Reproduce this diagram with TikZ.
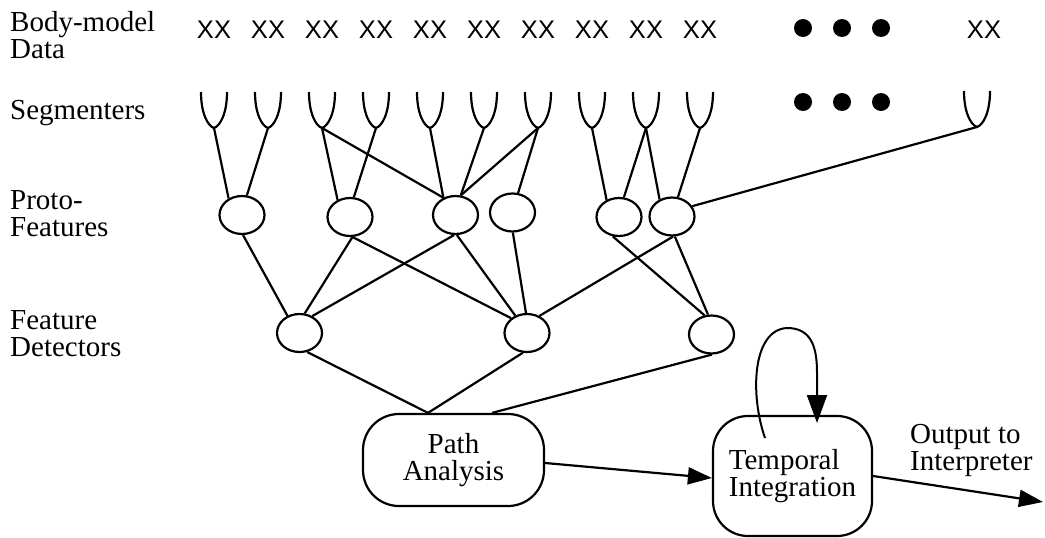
\documentclass[tikz,border=0pt]{standalone}
\usepackage{fontspec}
\setmainfont{Liberation Serif}
\newfontfamily\xxfont{Liberation Sans}
\usetikzlibrary{arrows.meta,shapes.geometric}
\begin{document}
\begin{tikzpicture}[x=1pt,y=-1pt,
  wire/.style={line width=2.2pt},
  unit/.style={draw,ellipse,line width=2.2pt,minimum width=45pt,minimum height=38pt,inner sep=0pt},
  stage/.style={draw,rectangle,line width=2.2pt,inner sep=0pt},
  layer/.style={anchor=base west,align=left,inner sep=0pt,font=\fontsize{29}{27}\selectfont},
  boxtext/.style={font=\fontsize{29}{27}\selectfont},
  datum/.style={inner sep=0pt,font=\xxfont\fontsize{25.5}{25.5}\selectfont},
  flow/.style={line width=2.2pt,-{Triangle[length=24pt,width=17pt]}},
  cup/.pic={\draw[line width=2.2pt] (-13,-36) .. controls (-13,-14) and (-6,-2) .. (0,0) .. controls (6,-2) and (13,-14) .. (13,-36);}
]
\useasboundingbox (0,0) rectangle (1045,538);

% layer labels (anchored at the baseline of their last line)
\node[layer] (lbody) at (10,58) {Body-model\\Data};
\node[layer] (lseg)  at (10,119) {Segmenters};
\node[layer] (lproto) at (10,236) {Proto-\\Features};
\node[layer] (lfeat) at (10,356) {Feature\\Detectors};

% body-model data and segmenters
\foreach \i in {0,...,9} {
  \node[datum] (x\i) at ({214+54*\i},30) {XX};
  \coordinate (s\i) at ({214+54*\i},128);
  \pic at (s\i) {cup};
}
\node[datum] (xL) at (984,30) {XX};
\coordinate (sL) at (977,127);
\pic at (sL) {cup};
\foreach \x in {803,842,881} {
  \fill (\x,28) circle[radius=9pt];
  \fill (\x,102) circle[radius=9pt];
}

% proto-features
\node[unit] (p1) at (242,215) {};
\node[unit] (p2) at (350,217) {};
\node[unit] (p3) at (455.5,215) {};
\node[unit] (p4) at (512.5,212.5) {};
\node[unit] (p5) at (619,217) {};
\node[unit] (p6) at (672,216.5) {};

% feature detectors
\node[unit] (f1) at (299.5,333) {};
\node[unit] (f2) at (527,333) {};
\node[unit] (f3) at (711.5,334.5) {};

% processing stages
\node[stage,boxtext,rounded corners=36pt,minimum width=181pt,minimum height=92pt,align=center]
  (path) at (453.5,460) {Path\\Analysis};
\node[stage,boxtext,rounded corners=35pt,minimum width=159pt,minimum height=120pt,align=left]
  (temp) at (792.5,476) {Temporal\\Integration};
\node[boxtext,anchor=base west,align=left,inner sep=0pt] (outlabel) at (910,470) {Output to\\Interpreter};

% segmenters to proto-features
\draw[wire] (s0) -- (p1.129);
\draw[wire] (s1) -- (p1.76);
\draw[wire] (s2) -- (p2.126);
\draw[wire] (s2) -- (p3.125);
\draw[wire] (s3) -- (p2.79);
\draw[wire] (s4) -- (p3.125);
\draw[wire] (s5) -- (p3.75);
\draw[wire] (s6) -- (p3.75);
\draw[wire] (s6) -- (p4.74);
\draw[wire] (s7) -- (p5.126);
\draw[wire] (s8) -- (p5.76);
\draw[wire] (s8) -- (p6.126);
\draw[wire] (s9) -- (p6.73);
\draw[wire] (sL) -- (p6.27);

% proto-features to feature detectors
\draw[wire] (p1.273) -- (f1.125);
\draw[wire] (p2.277) -- (f1.75);
\draw[wire] (p3.266) -- (f1.53);
\draw[wire] (p2.277) -- (f2.137);
\draw[wire] (p3.274) -- (f2.124);
\draw[wire] (p4.271) -- (f2.93);
\draw[wire] (p6.273) -- (f2.54);
\draw[wire] (p5.252) -- (f3.110);
\draw[wire] (p6.278) -- (f3.100);

% feature detectors to path analysis
\draw[wire] (f1.292) -- ([xshift=-25.5pt]path.north);
\draw[wire] (f2.258) -- ([xshift=-25.5pt]path.north);
\draw[wire] (f3.271) -- ([xshift=38.5pt]path.north);

% stage flow
\draw[flow] ([yshift=-3pt]path.east) -- ([yshift=-2pt]temp.west);
\coordinate (outtip) at (1043,502);
\draw[flow] (temp.east) -- (outtip);

% feedback loop on temporal integration
\coordinate (loopstart) at (765,438);
\coordinate (looptip) at (817,423);
\draw[line width=2pt,-{Triangle[length=28pt,width=20pt]}] (loopstart)
  .. controls (750,395) and (752,330) .. (787,328)
  .. controls (810,328) and (817,345) .. (817,372) -- (looptip);
\end{tikzpicture}
\end{document}
